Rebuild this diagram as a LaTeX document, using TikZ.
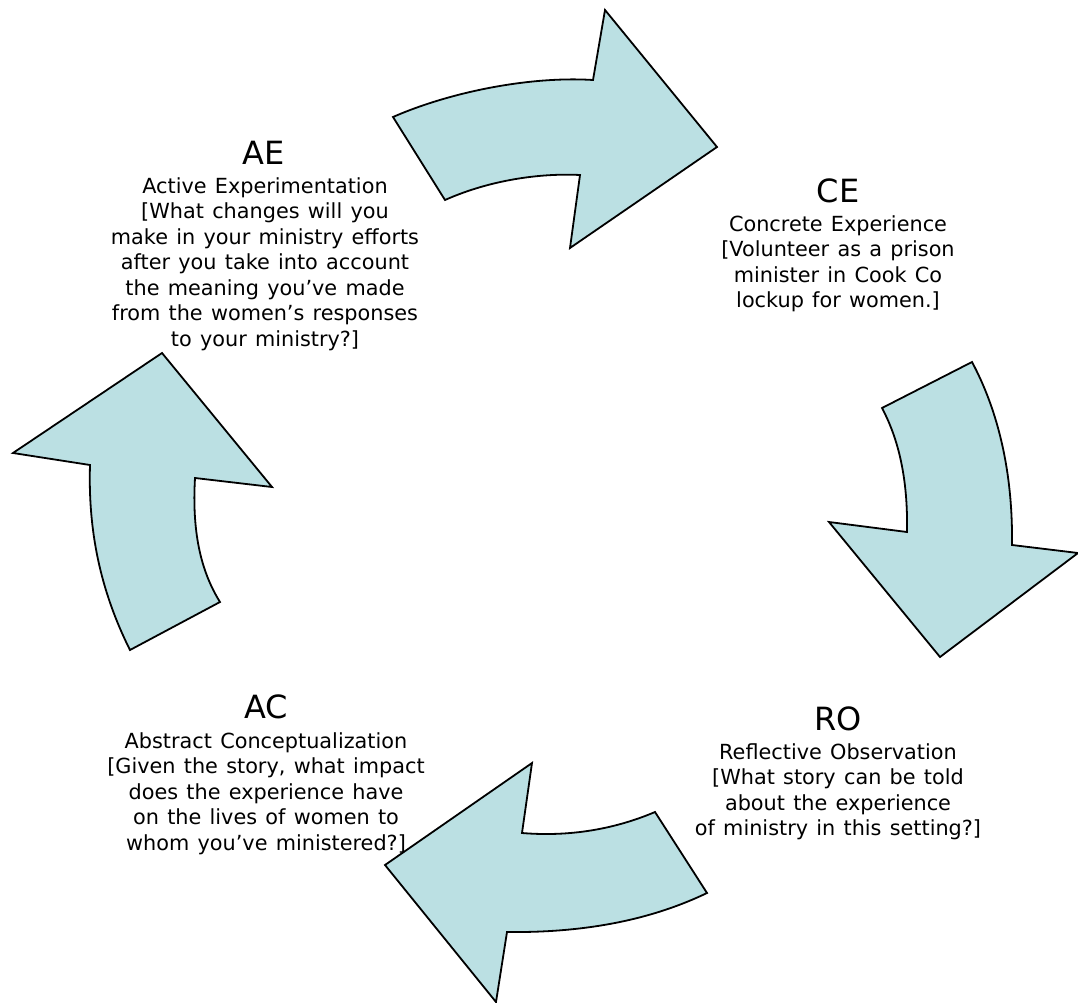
\documentclass[tikz,border=0pt]{standalone}
\usepackage{fontspec}
\setmainfont{DejaVu Sans}[WordSpace=1.25]
\definecolor{arrowfill}{HTML}{BBE0E3}
\begin{document}
\begin{tikzpicture}[x=1pt,y=-1pt,
  bigarrow/.style={fill=arrowfill,draw=black,line width=1.8pt,line join=miter},
  heading/.style={inner sep=0pt,anchor=base,font=\fontsize{32}{34}\selectfont},
  body/.style={inner sep=0pt,anchor=base,align=center,font=\fontsize{20.8}{25.5}\selectfont}]
\useasboundingbox (0,0) rectangle (1078,1003);
% top arrow (AE -> CE)
\draw[bigarrow] (393,117) .. controls (450,92) and (530,76) .. (593,80)
  -- (605,10) -- (717,147) -- (570,248) -- (580,175)
  .. controls (540,173) and (490,180) .. (445,200) -- cycle;
% right arrow (CE -> RO)
\draw[bigarrow] (882,408) -- (972,362) .. controls (995,405) and (1013,465) .. (1012,545)
  -- (1078,553) -- (940,657) -- (829,522) -- (907,532)
  .. controls (908,480) and (899,440) .. (882,408) -- cycle;
% bottom arrow (RO -> AC)
\draw[bigarrow] (385,865) -- (532,763) -- (522,833)
  .. controls (570,837) and (615,829) .. (655,812) -- (707,893)
  .. controls (655,918) and (590,933) .. (507,932) -- (496,1002) -- cycle;
% left arrow (AC -> AE)
\draw[bigarrow] (162,353) -- (272,487) -- (195,478)
  .. controls (192,530) and (200,570) .. (220,602) -- (130,650)
  .. controls (100,590) and (88,530) .. (90,465) -- (13,453) -- cycle;
% texts (body nodes: base = baseline of last line)
\node[heading] (aeh) at (264,165) {AE};
\node[body] (ae) at (265,346) {Active Experimentation\\{[}What changes will you\\make in your ministry efforts\\after you take into account\\the meaning you’ve made\\from the women’s responses\\to your ministry?]};
\node[heading] (ceh) at (838,203) {CE};
\node[body] (ce) at (838,307.5) {Concrete Experience\\{[}Volunteer as a prison\\minister in Cook Co\\lockup for women.]};
\node[heading] (ach) at (266,718) {AC};
\node[body] (ac) at (266,850) {Abstract Conceptualization\\{[}Given the story, what impact\\does the experience have\\on the lives of women to\\whom you’ve ministered?]};
\node[heading] (roh) at (838,730) {RO};
\node[body] (ro) at (838,835.5) {Reflective Observation\\{[}What story can be told\\about the experience\\of ministry in this setting?]};
\end{tikzpicture}
\end{document}
